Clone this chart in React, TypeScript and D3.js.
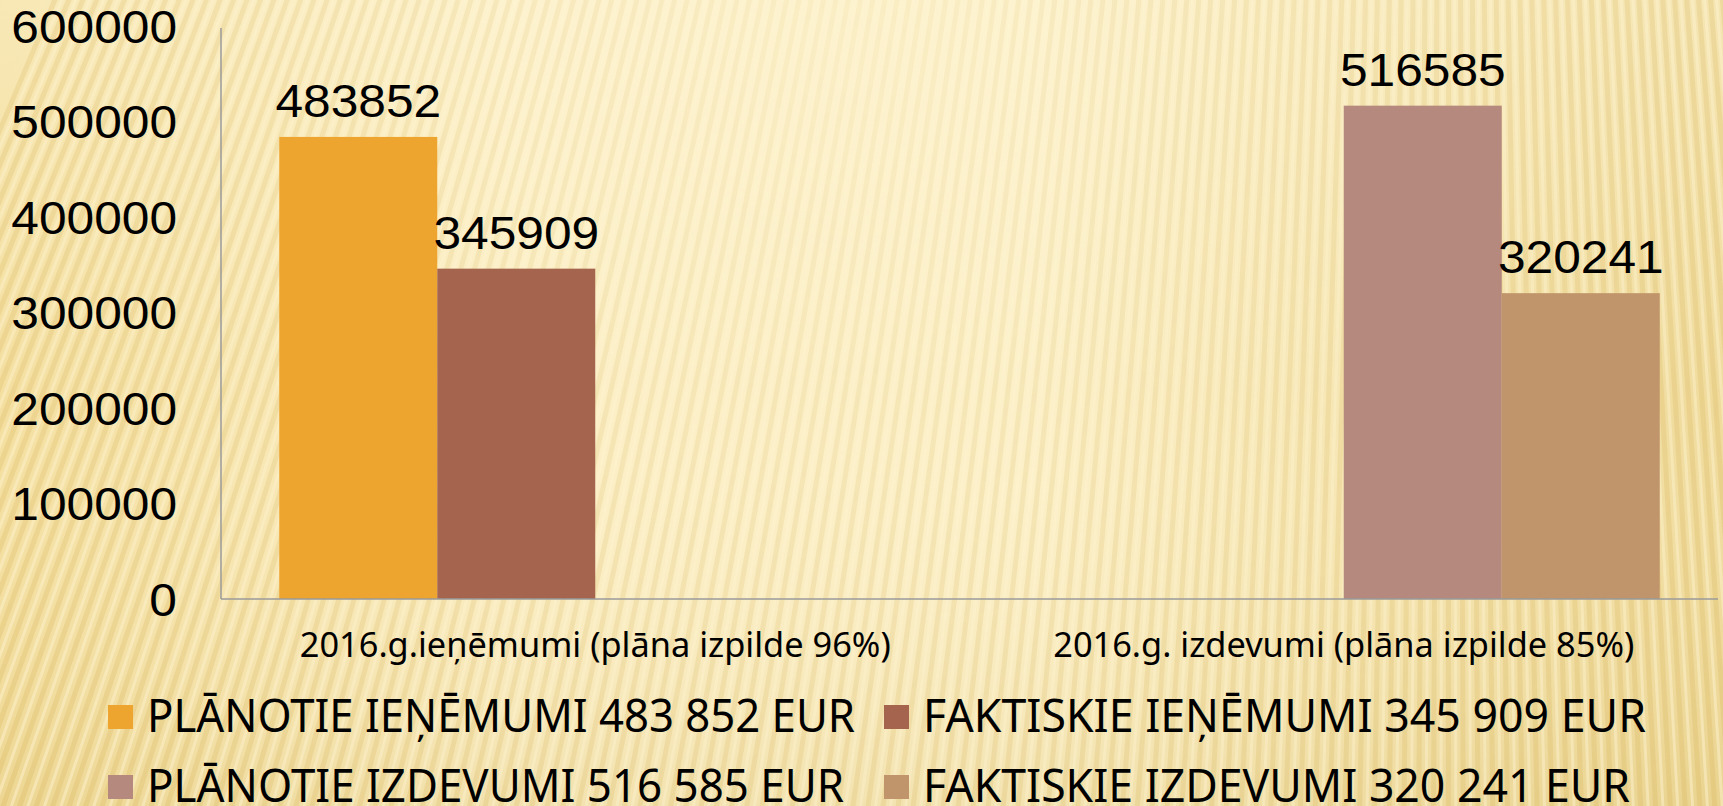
import React, { useEffect } from "react";
import * as d3 from "d3";

// ---- data ----
const categories = [
  "2016.g.ieņēmumi (plāna izpilde 96%)",
  "2016.g. izdevumi (plāna izpilde 85%)",
];
const seriesNames = [
  "PLĀNOTIE IEŅĒMUMI 483 852 EUR",
  "FAKTISKIE IEŅĒMUMI 345 909 EUR",
  "PLĀNOTIE IZDEVUMI 516 585 EUR",
  "FAKTISKIE IZDEVUMI 320 241 EUR",
];
const planotieIenemumi = [483852, null];
const faktiskieIenemumi = [345909, null];
const planotieIzdevumi = [null, 516585];
const faktiskieIzdevumi = [null, 320241];
const seriesValues = [planotieIenemumi, faktiskieIenemumi, planotieIzdevumi, faktiskieIzdevumi];
const yDomain = [0, 600000];

// ---- styles ----
const colors = ["#EEA530", "#A4644E", "#B5897D", "#C0956B"];
const W = 1723;
const H = 806;
const numFont = "Liberation Sans, Arial, sans-serif";
const stretch = 1.08;

export default function App() {
  useEffect(() => {
    document.body.style.margin = "0";
    document.body.style.overflow = "hidden";
  }, []);

  const axisLeft = 221;
  const axisRight = 1718;
  const y = d3.scaleLinear().domain(yDomain).range([599, 26]);
  const yTicks = y.ticks(6);

  const outerX = d3.scaleBand<string>().domain(categories).range([axisLeft, axisRight]).padding(0);
  const innerX = d3
    .scaleBand<string>()
    .domain(seriesNames)
    .range([0, outerX.bandwidth()])
    .paddingInner(0)
    .paddingOuter(0.3687);

  // background stripes radiating from a far focal point
  const fx = 1450;
  const fy = -3300;
  const angles = d3.range(-0.4, 0.12, 0.0036);
  const rayLen = 5200;

  // legend layout
  const legendCols = [147, 923];
  const legendRows = [732, 802];
  const legendWidths = [708, 723, 697, 707];

  return (
    <svg width={W} height={H} style={{ position: "absolute", left: 0, top: 0, display: "block" }}>
      <defs>
        <linearGradient id="bgH" x1="0" y1="0" x2="1" y2="0">
          <stop offset="0" stopColor="#F4DFA0" />
          <stop offset="0.3" stopColor="#FCEFC6" />
          <stop offset="0.6" stopColor="#FCF0C8" />
          <stop offset="1" stopColor="#F0DB9C" />
        </linearGradient>
        <linearGradient id="bgV" x1="0" y1="0" x2="0" y2="1">
          <stop offset="0" stopColor="#FFF8DC" stopOpacity="0.35" />
          <stop offset="0.5" stopColor="#FFF8DC" stopOpacity="0" />
          <stop offset="1" stopColor="#D8BC6A" stopOpacity="0.25" />
        </linearGradient>
        <radialGradient id="maskGrad" cx="850" cy="60" r="1100" gradientUnits="userSpaceOnUse">
          <stop offset="0" stopColor="#fff" stopOpacity="0.25" />
          <stop offset="0.6" stopColor="#fff" stopOpacity="0.7" />
          <stop offset="1" stopColor="#fff" stopOpacity="1" />
        </radialGradient>
        <mask id="stripeMask">
          <rect x={0} y={0} width={W} height={H} fill="url(#maskGrad)" />
        </mask>
      </defs>

      <rect x={0} y={0} width={W} height={H} fill="url(#bgH)" />
      <rect x={0} y={0} width={W} height={H} fill="url(#bgV)" />
      <g mask="url(#stripeMask)">
        {angles.map((a, i) => (
          <line
            key={i}
            x1={fx}
            y1={fy}
            x2={fx + rayLen * Math.sin(a)}
            y2={fy + rayLen * Math.cos(a)}
            stroke="#D9B760"
            strokeOpacity={0.32}
            strokeWidth={5}
          />
        ))}
        {angles.map((a, i) => (
          <line
            key={"l" + i}
            x1={fx}
            y1={fy}
            x2={fx + rayLen * Math.sin(a + 0.0018)}
            y2={fy + rayLen * Math.cos(a + 0.0018)}
            stroke="#FFF6D6"
            strokeOpacity={0.45}
            strokeWidth={3}
          />
        ))}
      </g>

      {/* bars */}
      {seriesValues.map((vals, si) =>
        vals.map((v, ci) =>
          v == null ? null : (
            <rect
              key={`b${si}-${ci}`}
              x={(outerX(categories[ci]) as number) + (innerX(seriesNames[si]) as number)}
              y={y(v)}
              width={innerX.bandwidth()}
              height={y(0) - y(v)}
              fill={colors[si]}
            />
          )
        )
      )}

      {/* data labels */}
      {seriesValues.map((vals, si) =>
        vals.map((v, ci) => {
          if (v == null) return null;
          const cx = (outerX(categories[ci]) as number) + (innerX(seriesNames[si]) as number) + innerX.bandwidth() / 2;
          const ty = y(v) - 20;
          return (
            <text
              key={`l${si}-${ci}`}
              transform={`translate(${cx},${ty}) scale(${stretch},1)`}
              textAnchor="middle"
              fontFamily={numFont}
              fontSize={46}
              fill="#000"
            >
              {String(v)}
            </text>
          );
        })
      )}

      {/* axes */}
      <line x1={axisLeft} y1={28} x2={axisLeft} y2={y(0)} stroke="#9A9A9A" strokeWidth={1.5} />
      <line x1={axisLeft} y1={y(0)} x2={axisRight} y2={y(0)} stroke="#9A9A9A" strokeWidth={1.5} />

      {/* y tick labels */}
      {yTicks.map((t) => (
        <text
          key={t}
          transform={`translate(177,${y(t)}) scale(${stretch},1)`}
          dy="0.36em"
          textAnchor="end"
          fontFamily={numFont}
          fontSize={46}
          fill="#000"
        >
          {String(t)}
        </text>
      ))}

      {/* category labels */}
      {categories.map((c, i) => (
        <text
          key={c}
          x={(outerX(c) as number) + outerX.bandwidth() / 2}
          y={657}
          textAnchor="middle"
          fontFamily="Noto Sans, sans-serif"
          fontSize={34}
          textLength={i === 0 ? 591 : 581}
          lengthAdjust="spacingAndGlyphs"
          fill="#000"
        >
          {c}
        </text>
      ))}

      {/* legend */}
      {seriesNames.map((s, i) => {
        const col = i % 2;
        const row = Math.floor(i / 2);
        const tx = legendCols[col];
        const by = legendRows[row];
        return (
          <g key={s}>
            <rect x={tx - 39} y={by - 27} width={25} height={24} fill={colors[i]} />
            <text
              x={tx}
              y={by}
              fontFamily="Noto Sans, sans-serif"
              fontSize={45}
              textLength={legendWidths[i]}
              lengthAdjust="spacingAndGlyphs"
              fill="#000"
            >
              {s}
            </text>
          </g>
        );
      })}
    </svg>
  );
}
